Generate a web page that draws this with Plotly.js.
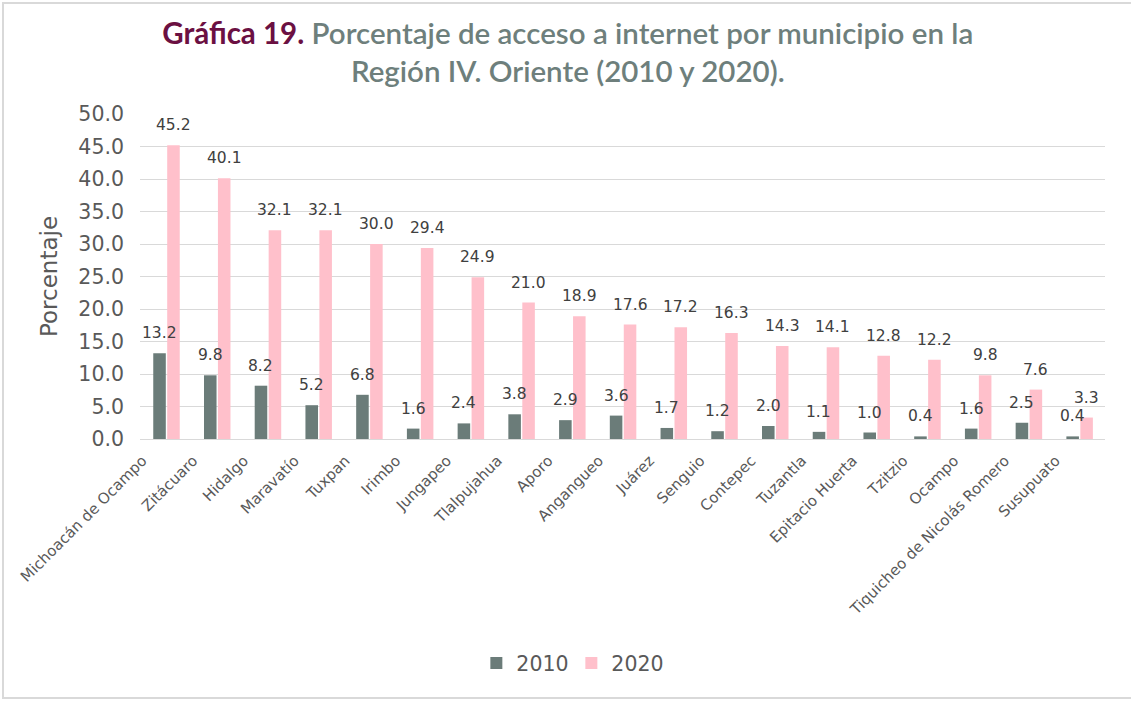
<!DOCTYPE html>
<html>
<head>
<meta charset="utf-8">
<script src="https://cdn.plot.ly/plotly-3.0.1.min.js"></script>
<style>
html,body{margin:0;padding:0;background:#fff;}
#frame{position:absolute;left:2px;top:2px;width:1140px;height:697px;border:2px solid #D9D9D9;box-sizing:border-box;}
#chart{position:absolute;left:0;top:0;width:1131px;height:702px;}
</style>
</head>
<body>
<div id="frame"></div>
<div id="chart"></div>
<script>
const municipios = ["Michoacán de Ocampo","Zitácuaro","Hidalgo","Maravatío","Tuxpan","Irimbo","Jungapeo","Tlalpujahua","Aporo","Angangueo","Juárez","Senguio","Contepec","Tuzantla","Epitacio Huerta","Tzitzio","Ocampo","Tiquicheo de Nicolás Romero","Susupuato"];
const valores2010 = [13.2,9.8,8.2,5.2,6.8,1.6,2.4,3.8,2.9,3.6,1.7,1.2,2.0,1.1,1.0,0.4,1.6,2.5,0.4];
const valores2020 = [45.2,40.1,32.1,32.1,30.0,29.4,24.9,21.0,18.9,17.6,17.2,16.3,14.3,14.1,12.8,12.2,9.8,7.6,3.3];
const yTicks = [0,5,10,15,20,25,30,35,40,45,50];

const color2010 = "#6B7C79";
const color2020 = "#FFC0CB";
const FONT = "'DejaVu Sans', sans-serif";

const traces = [
  {type:"bar", name:"2010", x:municipios, y:valores2010, marker:{color:color2010}, hoverinfo:"y"},
  {type:"bar", name:"2020", x:municipios, y:valores2020, marker:{color:color2020}, hoverinfo:"y"}
];

const labelFont = {family:FONT, size:15.5, color:"#404040"};
const annotations = [];
municipios.forEach((m,i)=>{
  annotations.push({x:m, y:valores2010[i], xref:"x", yref:"y", text:valores2010[i].toFixed(1), showarrow:false, xshift:-7, yshift:9, yanchor:"bottom", font:labelFont});
  annotations.push({x:m, y:valores2020[i], xref:"x", yref:"y", text:valores2020[i].toFixed(1), showarrow:false, xshift:7, yshift:9, yanchor:"bottom", font:labelFont});
});

const layout = {
  width:1131, height:702,
  paper_bgcolor:"rgba(0,0,0,0)", plot_bgcolor:"rgba(0,0,0,0)",
  margin:{l:140, r:26, t:114, b:263, autoexpand:false},
  title:{
    text:'<b><span style="color:#6B1042">Gráfica 19.</span></b> Porcentaje de acceso a internet por municipio en la<br>Región IV. Oriente (2010 y 2020).',
    font:{family:"Lato, sans-serif", size:29.5, color:"#6E7F7C", weight:600},
    x:0.502, xanchor:"center", y:0.938, yanchor:"top", yref:"container"
  },
  barmode:"group", bargap:0.45, bargroupgap:0.1,
  xaxis:{
    tickangle:-45, tickfont:{family:FONT, size:15, color:"#595959"},
    showline:true, linecolor:"#D9D9D9", linewidth:1, ticks:"", showgrid:false,
    ticklabelshift:-24, ticklabelstandoff:6, automargin:false
  },
  yaxis:{
    range:[0,50], tickvals:yTicks, ticktext:yTicks.map(v=>v.toFixed(1)),
    tickfont:{family:FONT, size:20.5, color:"#595959"},
    gridcolor:"#D9D9D9", gridwidth:1, zeroline:false, ticks:"", ticklabelstandoff:15,
    title:{text:"Porcentaje", font:{family:FONT, size:23, color:"#595959"}, standoff:14},
    automargin:false
  },
  showlegend:true,
  legend:{orientation:"h", x:0.447, xanchor:"center", y:-0.69, yanchor:"middle",
    font:{family:FONT, size:20.5, color:"#595959"}, itemwidth:30, traceorder:"normal",
    entrywidth:50, entrywidthmode:"pixels"},
  annotations:annotations
};

Plotly.newPlot("chart", traces, layout, {displayModeBar:false, staticPlot:true});
</script>
</body>
</html>
